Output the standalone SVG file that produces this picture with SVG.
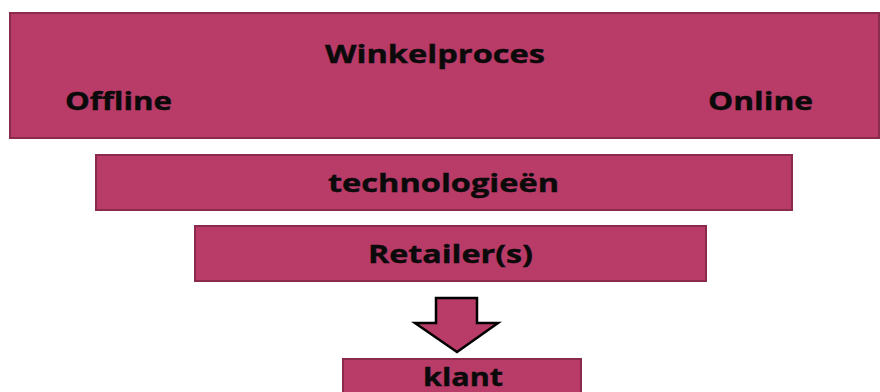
<svg xmlns="http://www.w3.org/2000/svg" width="880" height="392" viewBox="0 0 880 392">
  <style>
    .box { fill: #b93b68; stroke: #8a2b4e; stroke-width: 2; }
    .lbl { font-family: "Open Sans", "Liberation Sans", sans-serif; font-weight: bold; font-size: 25px; fill: #0a0a0a; stroke: #0a0a0a; stroke-width: 0.4; }
  </style>
  <rect x="0" y="0" width="880" height="392" fill="#ffffff"/>
  <g id="winkelproces">
    <rect class="box" x="10" y="13" width="869" height="125"/>
    <text class="lbl" x="325" y="63" textLength="220" lengthAdjust="spacingAndGlyphs">Winkelproces</text>
    <text class="lbl" x="65" y="110" textLength="107" lengthAdjust="spacingAndGlyphs">Offline</text>
    <text class="lbl" x="708" y="110" textLength="105" lengthAdjust="spacingAndGlyphs">Online</text>
  </g>
  <g id="technologieen">
    <rect class="box" x="96" y="155" width="696" height="55"/>
    <text class="lbl" x="328" y="192" textLength="231" lengthAdjust="spacingAndGlyphs">technologieën</text>
  </g>
  <g id="retailers">
    <rect class="box" x="195" y="226" width="511" height="55"/>
    <text class="lbl" x="368" y="263" textLength="165" lengthAdjust="spacingAndGlyphs">Retailer(s)</text>
  </g>
  <g id="connectors">
    <polygon class="box" style="stroke:#000;stroke-width:2.5" points="436,298 477,298 477,323 498,323 457,352 415,323 436,323"/>
  </g>
  <g id="klant">
    <rect class="box" x="343" y="359" width="238" height="40"/>
    <text class="lbl" x="423" y="386" textLength="80" lengthAdjust="spacingAndGlyphs">klant</text>
  </g>
</svg>
